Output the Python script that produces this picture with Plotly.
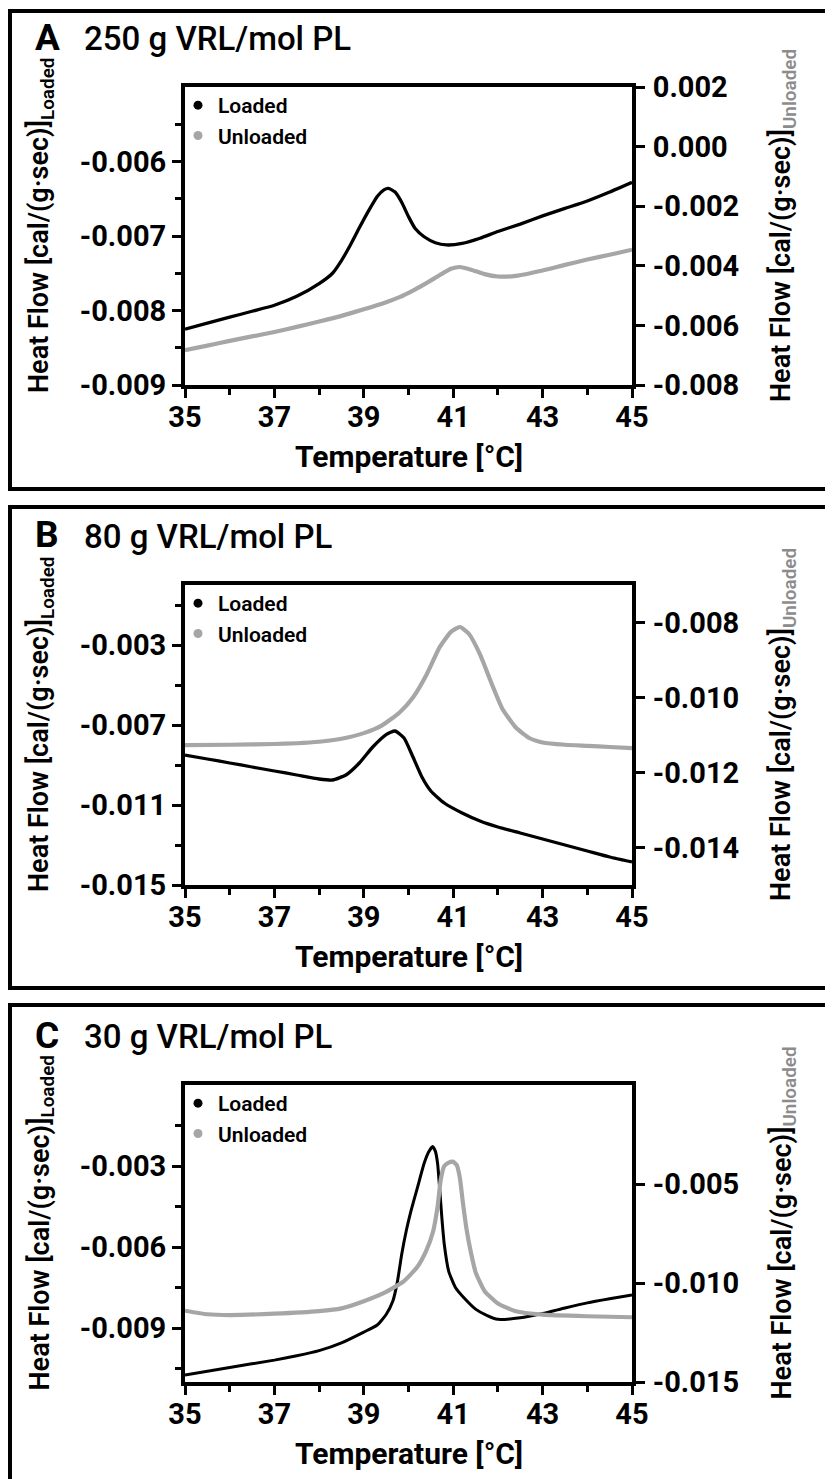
import plotly.graph_objects as go

# ---------------- data ----------------
# Panel A : 250 g VRL/mol PL
A_T_loaded = [35, 35.5, 36, 36.5, 37, 37.5, 38, 38.3, 38.5, 38.7, 38.9, 39.1, 39.3, 39.45, 39.55, 39.7,
              39.85, 40.0, 40.15, 40.35, 40.6, 40.85, 41.2, 41.6, 42, 42.5, 43, 43.5, 44, 44.5, 45]
A_loaded = [-0.00825, -0.00817, -0.00809, -0.00801, -0.00793, -0.00781, -0.00764, -0.00750, -0.00733,
            -0.00712, -0.00689, -0.00667, -0.00647, -0.00638, -0.00636, -0.00641, -0.00655, -0.00674,
            -0.00690, -0.00701, -0.00709, -0.00712, -0.00710, -0.00703, -0.00694, -0.00684, -0.00673,
            -0.00663, -0.00653, -0.00641, -0.00628]
A_T_unloaded = [35, 35.5, 36, 36.5, 37, 37.5, 38, 38.5, 39, 39.5, 39.8, 40.1, 40.4, 40.7, 40.95, 41.15,
                41.4, 41.7, 42, 42.4, 43, 43.5, 44, 44.5, 45]
A_unloaded = [-0.00683, -0.00668, -0.00652, -0.00637, -0.00622, -0.00605, -0.00587, -0.00568, -0.00546,
              -0.00522, -0.00505, -0.00483, -0.00458, -0.00431, -0.00410, -0.00404, -0.00413, -0.00428,
              -0.00436, -0.00434, -0.00416, -0.00397, -0.00379, -0.00363, -0.00346]

# Panel B : 80 g VRL/mol PL
B_T_loaded = [35, 35.5, 36, 36.5, 37, 37.5, 38, 38.3, 38.6, 38.9, 39.2, 39.5, 39.7, 39.9, 40.1, 40.3,
              40.5, 40.8, 41.2, 41.6, 42, 42.5, 43, 43.5, 44, 44.5, 45]
B_loaded = [-0.0085, -0.0087, -0.0089, -0.0091, -0.0093, -0.0095, -0.0097, -0.00975, -0.0095, -0.0089,
            -0.0081, -0.00748, -0.0073, -0.00765, -0.0086, -0.0096, -0.0103, -0.0109, -0.0114, -0.0118,
            -0.0121, -0.0124, -0.0127, -0.0130, -0.0133, -0.0136, -0.01385]
B_T_unloaded = [35, 36, 37, 37.5, 38, 38.5, 39, 39.4, 39.8, 40.1, 40.4, 40.7, 40.95, 41.15, 41.35, 41.6,
                41.85, 42.1, 42.4, 42.7, 43, 43.5, 44, 44.5, 45]
B_unloaded = [-0.01127, -0.01126, -0.01124, -0.01122, -0.01118, -0.01110, -0.01095, -0.01075, -0.0104,
              -0.0100, -0.0094, -0.00865, -0.00825, -0.00812, -0.00830, -0.00885, -0.00960, -0.01030,
              -0.01080, -0.01108, -0.01120, -0.01126, -0.01129, -0.01132, -0.01135]

# Panel C : 30 g VRL/mol PL
C_T_loaded = [35, 36, 37, 37.5, 38, 38.5, 39, 39.3, 39.5, 39.65, 39.75, 39.85, 39.95, 40.05, 40.2, 40.35,
              40.45, 40.54, 40.6, 40.65, 40.7, 40.75, 40.8, 40.9, 41.05, 41.25, 41.5, 41.75, 42, 42.5,
              43, 43.5, 44, 44.5, 45]
C_loaded = [-0.01074, -0.01046, -0.01019, -0.01003, -0.00984, -0.00955, -0.00915, -0.00889, -0.00850,
            -0.00800, -0.00730, -0.00625, -0.00540, -0.00470, -0.00380, -0.00290, -0.00248, -0.00228,
            -0.00245, -0.00290, -0.00390, -0.00500, -0.00590, -0.00690, -0.00750, -0.00790, -0.00830,
            -0.00853, -0.00868, -0.00862, -0.00846, -0.00826, -0.00807, -0.00792, -0.00778]
C_T_unloaded = [35, 35.5, 36, 37, 38, 38.5, 39, 39.5, 39.9, 40.2, 40.4, 40.55, 40.65, 40.72, 40.8, 40.9,
                40.99, 41.08, 41.15, 41.22, 41.3, 41.4, 41.5, 41.7, 42, 42.4, 43, 44, 45]
C_unloaded = [-0.0114, -0.01158, -0.01162, -0.01155, -0.01142, -0.01128, -0.01092, -0.01045, -0.00990,
              -0.00918, -0.00835, -0.00740, -0.00615, -0.00480, -0.00410, -0.00392, -0.00387, -0.00405,
              -0.00470, -0.00600, -0.00730, -0.00850, -0.00945, -0.01040, -0.01103, -0.01143, -0.01160,
              -0.01168, -0.01173]

# axis ticks
x_tickvals = [35, 37, 39, 41, 43, 45]
x_ticktext = ["35", "37", "39", "41", "43", "45"]
x_minor = [36, 38, 40, 42, 44]

A_left_ticks = [-0.009, -0.008, -0.007, -0.006]
A_left_text = ["-0.009", "-0.008", "-0.007", "-0.006"]
A_left_minor = [-0.0085, -0.0075, -0.0065, -0.0055]
A_left_range = [-0.009, -0.005]
A_right_ticks = [-0.008, -0.006, -0.004, -0.002, 0.0, 0.002]
A_right_text = ["-0.008", "-0.006", "-0.004", "-0.002", "0.000", "0.002"]
A_right_range = [-0.008, 0.002]

B_left_ticks = [-0.015, -0.011, -0.007, -0.003]
B_left_text = ["-0.015", "-0.011", "-0.007", "-0.003"]
B_left_minor = [-0.013, -0.009, -0.005, -0.001]
B_left_range = [-0.015, 0.0]
B_right_ticks = [-0.014, -0.012, -0.010, -0.008]
B_right_text = ["-0.014", "-0.012", "-0.010", "-0.008"]
B_right_range = [-0.015, -0.007]

C_left_ticks = [-0.009, -0.006, -0.003]
C_left_text = ["-0.009", "-0.006", "-0.003"]
C_left_minor = [-0.0105, -0.0075, -0.0045, -0.0015]
C_left_range = [-0.011, 0.0]
C_right_ticks = [-0.015, -0.010, -0.005]
C_right_text = ["-0.015", "-0.010", "-0.005"]
C_right_range = [-0.015, 0.0]

panel_letters = ["A", "B", "C"]
panel_titles = ["250 g VRL/mol PL", "80 g VRL/mol PL", "30 g VRL/mol PL"]
series_names = ["Loaded", "Unloaded"]
x_title = "Temperature [°C]"

# ---------------- style ----------------
PAGE_OFF = 8              # default body margin of the html page
W, H = 833 - PAGE_OFF, 1479 - PAGE_OFF
FONT = "Roboto, 'DejaVu Sans', sans-serif"
BLACK = "#000000"
GRAY = "#a6a6a6"


def px(x):
    return (x - PAGE_OFF) / W


def py(y):
    return 1 - (y - PAGE_OFF) / H


panels = [
    dict(T1=A_T_loaded, v1=A_loaded, T2=A_T_unloaded, v2=A_unloaded,
         lt=A_left_ticks, ltx=A_left_text, lm=A_left_minor, lr=A_left_range,
         rt=A_right_ticks, rtx=A_right_text, rr=A_right_range,
         top=87, bot=385, box=(11, 489), wl=3.3, wu=4.2),
    dict(T1=B_T_loaded, v1=B_loaded, T2=B_T_unloaded, v2=B_unloaded,
         lt=B_left_ticks, ltx=B_left_text, lm=B_left_minor, lr=B_left_range,
         rt=B_right_ticks, rtx=B_right_text, rr=B_right_range,
         top=585, bot=885, box=(507, 988), wl=3.3, wu=4.2),
    dict(T1=C_T_loaded, v1=C_loaded, T2=C_T_unloaded, v2=C_unloaded,
         lt=C_left_ticks, ltx=C_left_text, lm=C_left_minor, lr=C_left_range,
         rt=C_right_ticks, rtx=C_right_text, rr=C_right_range,
         top=1085, bot=1382, box=(1005, 1510), wl=3.0, wu=4.2),
]

X0, X1 = 185, 632

fig = go.Figure()
layout = dict(
    width=W, height=H, margin=dict(l=0, r=0, t=0, b=0, pad=0, autoexpand=False),
    paper_bgcolor="white", plot_bgcolor="white",
    font=dict(family=FONT, color=BLACK),
    shapes=[], annotations=[],
)

tickfont = dict(family=FONT, size=29, color=BLACK, weight="bold")

for i, p in enumerate(panels):
    xa = "x" if i == 0 else f"x{i + 1}"
    yl = f"y{2 * i + 1}" if i > 0 else "y"
    yr = f"y{2 * i + 2}"
    xkey = "xaxis" if i == 0 else f"xaxis{i + 1}"
    ylkey = "yaxis" if i == 0 else f"yaxis{2 * i + 1}"
    yrkey = f"yaxis{2 * i + 2}"
    leg = "legend" if i == 0 else f"legend{i + 1}"

    fig.add_trace(go.Scatter(x=p["T2"], y=p["v2"], xaxis=xa, yaxis=yr, mode="lines",
                             line=dict(color=GRAY, width=p["wu"], shape="spline", smoothing=0.5),
                             showlegend=False, name=series_names[1]))
    fig.add_trace(go.Scatter(x=p["T1"], y=p["v1"], xaxis=xa, yaxis=yl, mode="lines",
                             line=dict(color=BLACK, width=p["wl"], shape="spline", smoothing=0.5),
                             showlegend=False, name=series_names[0]))
    # legend entries (dots)
    for name, col in zip(series_names, [BLACK, GRAY]):
        fig.add_trace(go.Scatter(x=[None], y=[None], xaxis=xa, yaxis=yl, mode="markers",
                                 marker=dict(color=col, size=9), name=name, legend=leg))

    dom_y = [py(p["bot"]), py(p["top"])]
    layout[xkey] = dict(
        domain=[px(X0), px(X1)], anchor=yl, range=[35, 45], automargin=False,
        tickmode="array", tickvals=x_tickvals, ticktext=x_ticktext,
        ticks="outside", ticklen=9, tickwidth=3, tickcolor=BLACK, ticklabelstandoff=-6,
        minor=dict(tickmode="array", tickvals=x_minor, ticks="outside", ticklen=6,
                   tickwidth=3, tickcolor=BLACK, showgrid=False),
        showline=True, linewidth=4, linecolor=BLACK, mirror=True,
        showgrid=False, zeroline=False, tickfont=tickfont,
    )
    layout[ylkey] = dict(
        domain=dom_y, anchor=xa, range=p["lr"], automargin=False,
        tickmode="array", tickvals=p["lt"], ticktext=p["ltx"],
        ticks="outside", ticklen=9, tickwidth=3, tickcolor=BLACK,
        minor=dict(tickmode="array", tickvals=p["lm"], ticks="outside", ticklen=6,
                   tickwidth=3, tickcolor=BLACK, showgrid=False),
        showline=True, linewidth=4, linecolor=BLACK,
        showgrid=False, zeroline=False, tickfont=tickfont,
    )
    layout[yrkey] = dict(
        overlaying=yl, side="right", anchor=xa, range=p["rr"], automargin=False,
        tickmode="array", tickvals=p["rt"], ticktext=p["rtx"],
        ticks="outside", ticklen=9, tickwidth=3, tickcolor=BLACK, ticklabelstandoff=2,
        showline=True, linewidth=4, linecolor=BLACK,
        showgrid=False, zeroline=False, tickfont=tickfont,
    )
    layout[leg] = dict(
        x=px(178), y=py(p["top"] - 2), xanchor="left", yanchor="top",
        bgcolor="rgba(0,0,0,0)", borderwidth=0, itemwidth=30, tracegroupgap=0,
        font=dict(family=FONT, size=21, color=BLACK, weight=600),
    )

    # panel frame
    y0, y1 = p["box"]
    layout["shapes"].append(dict(type="rect", xref="paper", yref="paper",
                                 x0=px(10), x1=px(850), y0=py(y1), y1=py(y0),
                                 line=dict(color=BLACK, width=4), fillcolor="rgba(0,0,0,0)"))
    top = p["top"]
    # panel letter and title
    layout["annotations"].append(dict(text=panel_letters[i], xref="paper", yref="paper",
                                      x=px(47), y=py(top - 50), xanchor="center", yanchor="middle",
                                      showarrow=False,
                                      font=dict(family=FONT, size=37, weight="bold", color=BLACK)))
    layout["annotations"].append(dict(text=panel_titles[i], xref="paper", yref="paper",
                                      x=px(82), y=py(top - 49), xanchor="left", yanchor="middle",
                                      showarrow=False,
                                      font=dict(family=FONT, size=33, weight=500, color=BLACK)))
    # y titles
    mid = (p["top"] + p["bot"]) / 2
    layout["annotations"].append(dict(
        text="Heat Flow [cal/(g·sec)]<sub>Loaded</sub>", xref="paper", yref="paper",
        x=px(41), y=py(mid - 10), xanchor="center", yanchor="middle", textangle=-90,
        showarrow=False, font=dict(family=FONT, size=27, weight=600, color=BLACK)))
    layout["annotations"].append(dict(
        text="Heat Flow [cal/(g·sec)]<sub><span style='color:#8c8c8c'>Unloaded</span></sub>",
        xref="paper", yref="paper",
        x=px(783), y=py(mid - 10), xanchor="center", yanchor="middle", textangle=-90,
        showarrow=False, font=dict(family=FONT, size=27, weight=600, color=BLACK)))
    # x title
    layout["annotations"].append(dict(
        text=x_title, xref="paper", yref="paper",
        x=px((X0 + X1) / 2), y=py(p["bot"] + 71), xanchor="center", yanchor="middle",
        showarrow=False, font=dict(family=FONT, size=30, weight="bold", color=BLACK)))

fig.update_layout(**layout)
fig.write_html("out.html")
